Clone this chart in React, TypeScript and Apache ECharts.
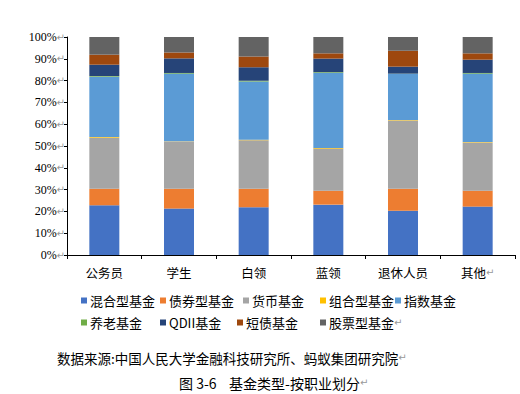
import React, { useEffect, useRef } from "react";
import * as echarts from "echarts";

const categories = ["公务员", "学生", "白领", "蓝领", "退休人员", "其他"];
const yTickLabels = ["0%", "10%", "20%", "30%", "40%", "50%", "60%", "70%", "80%", "90%", "100%"];

const seriesNames = ["混合型基金", "债券型基金", "货币基金", "组合型基金", "指数基金", "养老基金", "QDII基金", "短债基金", "股票型基金"];
const seriesColors = ["#4472C4", "#ED7D31", "#A5A5A5", "#FFC000", "#5B9BD5", "#70AD47", "#264478", "#9E480E", "#636363"];

const hunhe = [22.8, 21.3, 21.9, 23.1, 20.3, 22.2];
const zhaiquan = [7.6, 9.1, 8.5, 6.4, 10.1, 7.3];
const huobi = [23.4, 21.7, 22.2, 19.3, 31.3, 22.1];
const zuhe = [0.3, 0.1, 0.3, 0.3, 0.2, 0.2];
const zhishu = [27.7, 31.0, 26.7, 34.5, 21.2, 31.4];
const yanglao = [0.3, 0.3, 0.3, 0.3, 0.1, 0.3];
const qdii = [5.2, 6.7, 6.2, 6.2, 3.2, 6.1];
const duanzhai = [4.6, 2.7, 4.9, 2.4, 7.3, 2.9];
const gupiao = [8.1, 7.1, 9.0, 7.5, 6.3, 7.5];

const seriesValues = [hunhe, zhaiquan, huobi, zuhe, zhishu, yanglao, qdii, duanzhai, gupiao];

const sourceText = "数据来源:中国人民大学金融科技研究所、蚂蚁集团研究院";
const captionText = "图 3-6    基金类型-按职业划分";

const legendPos: [number, number][] = [
  [81, 294], [160, 294], [243, 294], [320, 294], [395, 294],
  [81, 316], [160, 316], [237, 316], [320, 316],
];

export default function App() {
  const ref = useRef<HTMLDivElement>(null);
  useEffect(() => {
    if (!ref.current) return;
    const chart = echarts.init(ref.current, null, { renderer: "svg" });
    const cjk = "'Noto Sans CJK SC', sans-serif";
    const arrowRich = { fontFamily: "'DejaVu Sans'", fontSize: 10, color: "#999999" };
    const lastName = seriesNames.length - 1;
    chart.setOption({
      animation: false,
      backgroundColor: "#ffffff",
      grid: { left: 67, right: 5, top: 37, bottom: 139, containLabel: false },
      xAxis: {
        type: "category",
        data: categories,
        axisLine: { show: true, onZero: false, lineStyle: { color: "#000000", width: 1 } },
        axisTick: { show: true, interval: 0, alignWithLabel: false, length: 4, lineStyle: { color: "#000000" } },
        axisLabel: {
          interval: 0,
          margin: 11,
          fontSize: 12.5,
          fontFamily: cjk,
          color: "#000000",
          formatter: (v: string, i: number) => (i === categories.length - 1 ? `${v}{r|↵}` : v),
          rich: { r: arrowRich },
        },
      },
      yAxis: {
        type: "value",
        min: 0,
        max: 100,
        interval: 10,
        axisLine: { show: true, lineStyle: { color: "#000000", width: 1 } },
        axisTick: { show: true, length: 3, lineStyle: { color: "#000000" } },
        splitLine: { show: false },
        axisLabel: {
          margin: 2,
          formatter: (v: number) => `{t|${yTickLabels[Math.round(v / 10)]}}{r|↵}`,
          rich: {
            t: { fontSize: 12, fontFamily: "'Liberation Serif', serif", color: "#000000" },
            r: arrowRich,
          },
        },
      },
      legend: seriesNames.map((name, i) => ({
        data: [name],
        left: legendPos[i][0],
        top: legendPos[i][1],
        padding: 0,
        icon: "rect",
        itemWidth: 6,
        itemHeight: 6,
        selectedMode: false,
        formatter: i === lastName ? `{t|${name}}{r|↵}` : "{name}",
        textStyle: {
          fontSize: 13,
          fontFamily: cjk,
          color: "#000000",
          padding: [0, 0, 0, -2],
          rich: i === lastName ? { t: { fontSize: 13, fontFamily: cjk, color: "#000000" }, r: arrowRich } : undefined,
        },
      })),
      series: seriesNames.map((name, i) => ({
        name,
        type: "bar",
        stack: "total",
        barWidth: 30,
        itemStyle: { color: seriesColors[i] },
        emphasis: { disabled: true },
        data: seriesValues[i],
      })),
      graphic: [
        {
          type: "text",
          left: 57,
          top: 351,
          style: {
            text: `{t|${sourceText}}{r|↵}`,
            rich: { t: { fontSize: 13.5, fontFamily: cjk, fill: "#000000" }, r: { ...arrowRich, fill: "#999999" } },
          },
        },
        {
          type: "text",
          left: 179,
          top: 376,
          style: {
            text: `{t|${captionText}}{r|↵}`,
            rich: { t: { fontSize: 14, fontFamily: cjk, fill: "#000000" }, r: { ...arrowRich, fill: "#999999" } },
          },
        },
      ],
    });
    return () => chart.dispose();
  }, []);
  return <div ref={ref} style={{ width: 520, height: 394, position: "absolute", left: 0, top: 0 }} />;
}
